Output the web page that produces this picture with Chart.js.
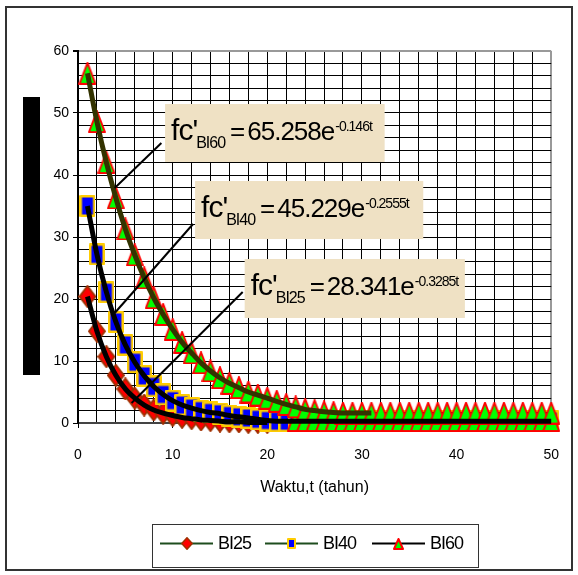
<!DOCTYPE html>
<html>
<head>
<meta charset="utf-8">
<script src="https://cdn.jsdelivr.net/npm/chart.js@4.4.0/dist/chart.umd.min.js"></script>
<style>
  html, body { margin: 0; padding: 0; background: #fff; }
</style>
</head>
<body>
<canvas id="chart" width="578" height="575"></canvas>
<script>
// data
const years = [1, 2, 3, 4, 5, 6, 7, 8, 9, 10, 11, 12, 13, 14, 15, 16, 17, 18, 19, 20,
  21, 22, 23, 24, 25, 26, 27, 28, 29, 30, 31, 32, 33, 34, 35, 36, 37, 38, 39, 40,
  41, 42, 43, 44, 45, 46, 47, 48, 49, 50];
const bi25 = [20.4, 14.8, 10.7, 7.7, 5.5, 4.0, 2.9, 2.1, 1.6, 1.2, 0.9, 0.7, 0.5, 0.4, 0.3, 0.2, 0.2, 0.1, 0.1, 0.1];
const bi40 = [35.0, 27.2, 21.1, 16.3, 12.6, 9.8, 7.6, 5.9, 4.6, 3.6, 2.9, 2.4, 2.0, 1.7, 1.5, 1.2, 1.0, 0.8, 0.6, 0.4,
  0.3, 0.3, 0.3, 0.3, 0.3, 0.3, 0.3, 0.3, 0.3, 0.3, 0.3, 0.3, 0.3, 0.3, 0.3, 0.3, 0.3, 0.3, 0.3, 0.3,
  0.3, 0.3, 0.3, 0.3, 0.3, 0.3, 0.3, 0.3, 0.3, 0.3];
const bi60 = [56.4, 48.6, 42.0, 36.3, 31.3, 27.1, 23.4, 20.2, 17.5, 15.1, 13.0, 11.3, 9.7, 8.4, 7.3, 6.4, 5.7, 5.0, 4.5, 4.0,
  3.5, 3.0, 2.6, 2.2, 2.0, 1.8, 1.7, 1.6, 1.6, 1.6, 1.6, 1.6, 1.6, 1.6, 1.6, 1.6, 1.6, 1.6, 1.6, 1.6,
  1.6, 1.6, 1.6, 1.6, 1.6, 1.6, 1.6, 1.6, 1.6, 1.6];
const tailYears = [23, 24, 25, 26, 27, 28, 29, 30, 31, 32, 33, 34, 35, 36, 37, 38, 39, 40,
  41, 42, 43, 44, 45, 46, 47, 48, 49, 50];
const bi60Tail = [0.4, 0.4, 0.4, 0.4, 0.4, 0.4, 0.4, 0.4, 0.4, 0.4, 0.4, 0.4, 0.4, 0.4, 0.4, 0.4, 0.4, 0.4,
  0.4, 0.4, 0.4, 0.4, 0.4, 0.4, 0.4, 0.4, 0.4, 0.4];
const trend60Years = 31;
const labels = ['BI25', 'BI40', 'BI60'];
const equations = [
  { sub: 'BI60', coef: '65.258e', expo: '-0.146t' },
  { sub: 'BI40', coef: '45.229e', expo: '-0.2555t' },
  { sub: 'BI25', coef: '28.341e', expo: '-0.3285t' }
];

const FONT = 'Arial, "Liberation Sans", sans-serif';

function pts(xs, ys) {
  return ys.map((v, i) => ({ x: xs[i], y: v }));
}

function makeMarker(shape, w, h, fill, stroke, lw) {
  const c = document.createElement('canvas');
  c.width = w; c.height = h;
  const g = c.getContext('2d');
  g.fillStyle = fill; g.strokeStyle = stroke; g.lineWidth = lw; g.lineJoin = 'round';
  const p = lw / 2;
  g.beginPath();
  if (shape === 'diamond') {
    g.moveTo(w / 2, p); g.lineTo(w - p, h / 2); g.lineTo(w / 2, h - p); g.lineTo(p, h / 2);
  } else if (shape === 'square') {
    g.rect(p, p, w - lw, h - lw);
  } else {
    g.moveTo(w / 2, p); g.lineTo(w - p, h - p); g.lineTo(p, h - p);
  }
  g.closePath(); g.fill(); g.stroke();
  return c;
}

const diamond = makeMarker('diamond', 18, 23, '#ff0000', '#a03000', 2);
const square = makeMarker('square', 16, 22, '#0000ff', '#ffcc00', 2.5);
const triangle = makeMarker('triangle', 18, 23, '#00ff00', '#ff0000', 2);
const legendMarkers = [
  makeMarker('diamond', 12, 13, '#ff0000', '#a03000', 1.5),
  makeMarker('square', 9, 11, '#0000ff', '#ffcc00', 2),
  makeMarker('triangle', 11, 12, '#00ff00', '#ff0000', 2)
];

const decorations = {
  id: 'decorations',
  beforeDraw(chart) {
    const ctx = chart.ctx;
    ctx.save();
    ctx.fillStyle = '#fff';
    ctx.fillRect(0, 0, chart.width, chart.height);
    ctx.restore();
  },
  afterDatasetsDraw(chart) {
    const ctx = chart.ctx, xs = chart.scales.x, ys = chart.scales.y;
    const boxes = [
      { x0: 9.2, x1: 32.4, y0: 51.45, y1: 42.1, lx0: 8.81, ly0: 45.16, lx1: 3.88, ly1: 37.9 },
      { x0: 12.37, x1: 36.48, y0: 39.03, y1: 29.68, lx0: 12.16, ly0: 32.1, lx1: 3.88, ly1: 17.74 },
      { x0: 17.61, x1: 40.88, y0: 26.45, y1: 16.94, lx0: 17.4, ly0: 21.13, lx1: 5.66, ly1: 3.23 }
    ];
    ctx.save();
    boxes.forEach((b, i) => {
      const eq = equations[i];
      ctx.strokeStyle = '#000'; ctx.lineWidth = 2;
      ctx.beginPath();
      ctx.moveTo(xs.getPixelForValue(b.lx0), ys.getPixelForValue(b.ly0));
      ctx.lineTo(xs.getPixelForValue(b.lx1), ys.getPixelForValue(b.ly1));
      ctx.stroke();
      const l = xs.getPixelForValue(b.x0), r = xs.getPixelForValue(b.x1);
      const t = ys.getPixelForValue(b.y0), bt = ys.getPixelForValue(b.y1);
      ctx.fillStyle = '#efe1c4';
      ctx.fillRect(l, t, r - l, bt - t);
      ctx.fillStyle = '#000'; ctx.textAlign = 'left'; ctx.textBaseline = 'alphabetic';
      ctx.letterSpacing = '-1px';
      let x = l + 6; const base = t + 36;
      ctx.font = '30px ' + FONT;
      ctx.fillText("fc'", x, base); x += ctx.measureText("fc'").width - 1;
      ctx.font = '16px ' + FONT;
      ctx.fillText(eq.sub, x, base + 8); x += ctx.measureText(eq.sub).width + 5;
      ctx.font = '26px ' + FONT;
      ctx.fillText('=', x, base); x += ctx.measureText('=').width + 3;
      ctx.fillText(eq.coef, x, base); x += ctx.measureText(eq.coef).width + 1;
      ctx.font = '14px ' + FONT;
      ctx.fillText(eq.expo, x, base - 9);
      ctx.letterSpacing = '0px';
    });
    ctx.restore();
  },
  afterDraw(chart) {
    const ctx = chart.ctx;
    ctx.save();
    // frame
    ctx.strokeStyle = '#333'; ctx.lineWidth = 2;
    ctx.strokeRect(6, 7, 566, 563);
    // y axis title block
    ctx.fillStyle = '#000';
    ctx.fillRect(23, 97, 17, 278);
    // legend
    ctx.lineWidth = 1; ctx.strokeStyle = '#333';
    ctx.fillStyle = '#fff';
    ctx.fillRect(152.5, 524.5, 326, 43);
    ctx.strokeRect(152.5, 524.5, 326, 43);
    const starts = [160, 265, 372];
    const ids = [0, 1, 3];
    ctx.font = '18px ' + FONT;
    ctx.textBaseline = 'middle'; ctx.textAlign = 'left';
    ctx.letterSpacing = '-1px';
    starts.forEach((sx, i) => {
      const ds = chart.data.datasets[ids[i]];
      const y = 543.5;
      ctx.strokeStyle = ds.borderColor; ctx.lineWidth = 2;
      ctx.beginPath(); ctx.moveTo(sx, y); ctx.lineTo(sx + 53, y); ctx.stroke();
      const m = legendMarkers[i];
      ctx.drawImage(m, Math.round(sx + 26.5 - m.width / 2), Math.round(y - m.height / 2));
      ctx.fillStyle = '#000';
      ctx.fillText(labels[i], sx + 58, y + 1);
    });
    ctx.restore();
  }
};

const seriesBase = { showLine: true, borderWidth: 2, pointRadius: 10, clip: false, tension: 0 };
const trendBase = { showLine: true, pointRadius: 0, clip: false, tension: 0.4, cubicInterpolationMode: 'monotone' };

new Chart(document.getElementById('chart'), {
  type: 'scatter',
  data: {
    datasets: [
      Object.assign({ label: labels[0], data: pts(years, bi25), borderColor: '#1e4d1e', pointStyle: diamond, order: 10 }, seriesBase),
      Object.assign({ label: labels[1], data: pts(years, bi40), borderColor: '#1e4d1e', pointStyle: square, order: 9 }, seriesBase),
      Object.assign({ label: labels[2] + ' tail', data: pts(tailYears, bi60Tail), borderColor: '#000', pointStyle: triangle, order: 8 }, seriesBase),
      Object.assign({ label: labels[2], data: pts(years, bi60), borderColor: '#000', pointStyle: triangle, order: 7 }, seriesBase),
      Object.assign({ label: 'trend BI25', data: pts(years, bi25), borderColor: '#000', borderWidth: 5, order: 3 }, trendBase),
      Object.assign({ label: 'trend BI40', data: pts(years, bi40), borderColor: '#000', borderWidth: 5, order: 2 }, trendBase),
      Object.assign({ label: 'trend BI60', data: pts(years, bi60.slice(0, trend60Years)), borderColor: '#333300', borderWidth: 5, order: 1 }, trendBase)
    ]
  },
  options: {
    responsive: false,
    animation: false,
    events: [],
    layout: { padding: { left: 0, right: 23, top: 51, bottom: 0 } },
    plugins: { legend: { display: false }, tooltip: { enabled: false } },
    scales: {
      x: {
        type: 'linear', min: 0, max: 50,
        afterFit(s) { s.height = 152; },
        ticks: {
          stepSize: 2, autoSkip: false, maxRotation: 0, padding: 19,
          color: '#000', font: { family: FONT, size: 14 },
          callback: v => (v % 10 === 0 ? String(v) : '')
        },
        grid: {
          color: c => (c.tick && c.tick.value === 50 ? '#999' : '#000'),
          lineWidth: c => (c.tick && c.tick.value === 50 ? 2 : 1),
          tickLength: 5,
          tickColor: c => (c.tick && c.tick.value % 10 === 0 ? '#000' : 'rgba(0,0,0,0)')
        },
        border: { color: '#444', width: 2 },
        title: {
          display: true, text: 'Waktu,t (tahun)', color: '#000',
          font: { family: FONT, size: 16, lineHeight: 1 },
          padding: { top: 0, bottom: 79 }
        }
      },
      y: {
        type: 'linear', min: 0, max: 60,
        afterFit(s) { s.width = 78; },
        ticks: {
          stepSize: 2, autoSkip: false, padding: 4,
          color: '#000', font: { family: FONT, size: 14 },
          callback: v => (v % 10 === 0 ? String(v) : '')
        },
        grid: {
          color: c => (c.tick && c.tick.value === 60 ? '#999' : '#000'),
          lineWidth: c => (c.tick && c.tick.value === 60 ? 2 : 1),
          tickLength: 5,
          tickColor: c => (c.tick && c.tick.value % 10 === 0 ? '#000' : 'rgba(0,0,0,0)')
        },
        border: { color: '#000', width: 2 }
      }
    }
  },
  plugins: [decorations]
});
</script>
</body>
</html>
